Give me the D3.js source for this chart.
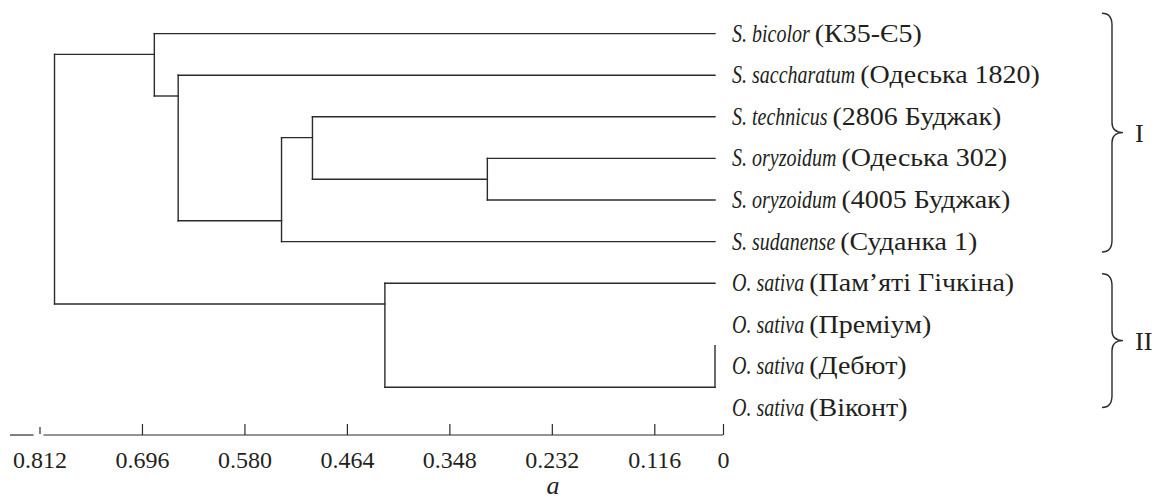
<!DOCTYPE html>
<html>
<head>
<meta charset="utf-8">
<script src="https://cdn.jsdelivr.net/npm/d3@7"></script>
<style>
  html, body { margin: 0; padding: 0; background: #fff; }
  svg, svg text { font-family: "Liberation Serif", "DejaVu Serif", serif; }
  svg text { fill: #231f20; }
</style>
</head>
<body>
<div id="chart"></div>
<script>
// leaves, top to bottom
const speciesNames = [
  "S. bicolor", "S. saccharatum", "S. technicus", "S. oryzoidum", "S. oryzoidum",
  "S. sudanense", "O. sativa", "O. sativa", "O. sativa", "O. sativa",
];
const varietyNames = [
  "(К35-Є5)", "(Одеська 1820)", "(2806 Буджак)", "(Одеська 302)", "(4005 Буджак)",
  "(Суданка 1)", "(Пам’яті Гічкіна)", "(Преміум)", "(Дебют)", "(Віконт)",
];

// linkage: [left id, right id, distance]; new nodes get ids 10, 11, ...
const merges = [
  [3, 4, 0.305],
  [2, 10, 0.503],
  [11, 5, 0.538],
  [1, 12, 0.655],
  [0, 13, 0.682],
  [7, 8, 0],
  [15, 9, 0],
  [6, 16, 0.421],
  [14, 17, 0.795],
];

const tickValues = [0.812, 0.696, 0.58, 0.464, 0.348, 0.232, 0.116, 0];

const groups = [
  { label: "I", first: 0, last: 5 },
  { label: "II", first: 6, last: 9 },
];

(function drawChart() {
  const width = 1156, height = 500;
  const lineColor = "#2b2b2b";
  const fontFamily = "'Liberation Serif', 'DejaVu Serif', serif";

  const svg = d3.select("#chart").append("svg")
    .attr("width", width).attr("height", height)
    .style("font-family", fontFamily);

  // distance scale (reversed, slightly stretched near 0 like the original)
  const x = d3.scaleLinear().domain([0.812, 0.116, 0]).range([39.5, 654.3, 715]);
  const xAxisScale = x.copy().range([39.5, 654.3, 723]);

  const y = d3.scalePoint()
    .domain(d3.range(speciesNames.length))
    .range([33.6, 408]);

  // build hierarchy from linkage
  const n = speciesNames.length;
  function makeNode(id) {
    if (id < n) return { id, h: 0 };
    const [a, b, h] = merges[id - n];
    return { id, h, children: [makeNode(a), makeNode(b)] };
  }
  const root = d3.hierarchy(makeNode(n + merges.length - 1));

  // junction y: midway between the two children's neighbouring leaves
  function conn(node) {
    if (!node.children) return y(node.data.id);
    const leftLeaves = node.children[0].leaves();
    const rightLeaves = node.children[1].leaves();
    return (y(leftLeaves[leftLeaves.length - 1].data.id) + y(rightLeaves[0].data.id)) / 2;
  }
  function childY(child, parent) {
    if (!child.children && child.data.h === parent.data.h) return conn(parent);
    return conn(child);
  }

  const segments = [];
  root.each((node) => {
    if (!node.children) return;
    const nx = x(node.data.h);
    const ys = node.children.map((c) => childY(c, node));
    segments.push({ x1: nx, x2: nx, y1: ys[0], y2: ys[1] });
    node.children.forEach((c, i) => {
      segments.push({ x1: nx, x2: x(c.data.h), y1: ys[i], y2: ys[i] });
    });
  });

  svg.append("g")
    .selectAll("line")
    .data(segments.filter((s) => s.x1 !== s.x2 || s.y1 !== s.y2))
    .join("line")
    .attr("x1", (d) => d.x1).attr("x2", (d) => d.x2)
    .attr("y1", (d) => d.y1).attr("y2", (d) => d.y2)
    .attr("stroke", lineColor)
    .attr("stroke-width", 1.4)
    .attr("stroke-linecap", "square");

  // leaf labels: narrow italic species name, wide upright variety
  const labelX = x(0) + 17;
  const italicScale = 0.8, uprightScale = 1.12;
  const labelRows = svg.append("g")
    .selectAll("g")
    .data(d3.range(n))
    .join("g")
    .attr("transform", (i) => `translate(${labelX},${y(i) + 8})`);
  labelRows.append("text")
    .attr("class", "species")
    .attr("font-size", 25)
    .attr("font-style", "italic")
    .attr("transform", `scale(${italicScale},1)`)
    .text((i) => speciesNames[i]);
  labelRows.each(function (i) {
    const row = d3.select(this);
    const w = row.select(".species").node().getComputedTextLength() * italicScale;
    row.append("text")
      .attr("font-size", 25)
      .attr("transform", `translate(${w + 5},0) scale(${uprightScale},1)`)
      .text(varietyNames[i]);
  });

  // braces with group numerals
  const bx0 = 1102, bx1 = 1112, bx2 = 1123;
  groups.forEach((g) => {
    const rowMid = (y(g.first) + y(g.last)) / 2;
    const half = (y(g.last) - y(g.first)) / 2 * 1.26 - 11.7;
    const mid = rowMid - 5;
    const top = mid - half, bottom = mid + half;
    const path = d3.path();
    path.moveTo(bx0, top);
    path.quadraticCurveTo(bx1, top, bx1, top + 12);
    path.lineTo(bx1, mid - 10);
    path.quadraticCurveTo(bx1, mid, bx2, mid);
    path.quadraticCurveTo(bx1, mid, bx1, mid + 10);
    path.lineTo(bx1, bottom - 12);
    path.quadraticCurveTo(bx1, bottom, bx0, bottom);
    svg.append("path")
      .attr("d", path.toString())
      .attr("fill", "none")
      .attr("stroke", lineColor)
      .attr("stroke-width", 1.4);
    svg.append("text")
      .attr("transform", `translate(1135,${mid + 9}) scale(1.05,1)`)
      .attr("font-size", 25)
      .text(g.label);
  });

  // axis
  const axisY = 435;
  const axis = svg.append("g").attr("transform", `translate(0,${axisY})`);
  axis.call(
    d3.axisBottom(xAxisScale)
      .tickValues(tickValues)
      .tickSizeInner(-11)
      .tickSizeOuter(0)
      .tickPadding(16)
      .tickFormat((d) => (d === 0 ? "0" : d3.format(".3f")(d)))
  );
  axis.attr("font-family", null).attr("font-size", null);
  axis.select(".domain").remove();
  axis.selectAll(".tick line").attr("stroke", lineColor).attr("stroke-width", 1.2);
  axis.selectAll(".tick text")
    .attr("font-size", 24)
    .style("font-family", fontFamily)
    .attr("fill", "#231f20");
  // first tick is short and sits in a break of the axis line
  axis.selectAll(".tick line").filter((d) => d === tickValues[0])
    .attr("y1", -1).attr("y2", -8);
  const x0 = xAxisScale(tickValues[0]);
  [[10, x0 - 6], [x0 + 4, xAxisScale(0)]].forEach(([a, b]) => {
    axis.append("line")
      .attr("x1", a).attr("x2", b)
      .attr("stroke", lineColor).attr("stroke-width", 1.2);
  });

  svg.append("text")
    .attr("x", 553)
    .attr("y", 494)
    .attr("text-anchor", "middle")
    .attr("font-size", 26)
    .attr("font-style", "italic")
    .text("a");
})();
</script>
</body>
</html>
